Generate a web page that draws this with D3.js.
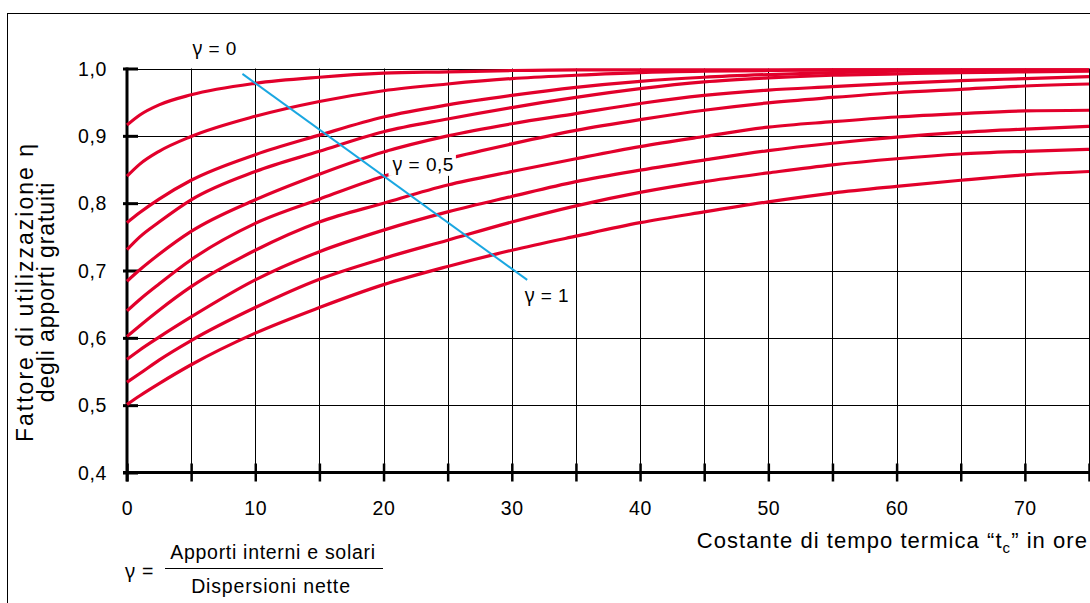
<!DOCTYPE html>
<html>
<head>
<meta charset="utf-8">
<script src="https://cdn.jsdelivr.net/npm/d3@7"></script>
<style>
  html, body { margin: 0; padding: 0; background: #fff; }
  svg { display: block; }
  text { font-family: "Liberation Sans", Arial, Helvetica, sans-serif; fill: #000; }
  .greek { font-family: "Noto Sans", "DejaVu Sans", sans-serif; }
</style>
</head>
<body>
<svg id="chart" width="1090" height="603"></svg>
<script>
// Thermal time constant (hours) at which each curve is sampled
const tHours = [0, 1, 2.5, 5, 10, 15, 20, 25, 30, 35, 40, 45, 50, 55, 60, 65, 70, 75];

// Utilisation factor of free gains, one series per gain/loss ratio gamma
const gammaValues = [0.1, 0.2, 0.3, 0.4, 0.5, 0.6, 0.7, 0.8, 0.9, 1.0];
const eta01 = [0.916, 0.931, 0.946, 0.961, 0.978, 0.987, 0.993, 0.995, 0.997, 0.998, 0.998, 0.998, 0.998, 0.998, 0.998, 0.998, 0.998, 0.998];
const eta02 = [0.840, 0.858, 0.877, 0.899, 0.929, 0.951, 0.967, 0.977, 0.985, 0.990, 0.994, 0.996, 0.997, 0.998, 0.998, 0.998, 0.998, 0.998];
const eta03 = [0.771, 0.786, 0.806, 0.834, 0.872, 0.901, 0.928, 0.946, 0.960, 0.972, 0.981, 0.987, 0.991, 0.994, 0.996, 0.997, 0.997, 0.997];
const eta04 = [0.731, 0.750, 0.772, 0.805, 0.847, 0.877, 0.906, 0.925, 0.942, 0.957, 0.970, 0.980, 0.986, 0.990, 0.992, 0.994, 0.995, 0.996];
const eta05 = [0.684, 0.701, 0.724, 0.758, 0.805, 0.843, 0.876, 0.900, 0.918, 0.933, 0.948, 0.960, 0.968, 0.973, 0.978, 0.982, 0.985, 0.988];
const eta06 = [0.640, 0.657, 0.680, 0.716, 0.770, 0.806, 0.840, 0.866, 0.888, 0.908, 0.924, 0.938, 0.949, 0.957, 0.964, 0.969, 0.974, 0.977];
const eta07 = [0.602, 0.618, 0.641, 0.676, 0.730, 0.772, 0.800, 0.827, 0.847, 0.866, 0.884, 0.899, 0.913, 0.921, 0.928, 0.933, 0.937, 0.938];
const eta08 = [0.568, 0.582, 0.601, 0.631, 0.686, 0.728, 0.760, 0.787, 0.810, 0.832, 0.849, 0.864, 0.878, 0.889, 0.898, 0.905, 0.910, 0.914];
const eta09 = [0.534, 0.547, 0.567, 0.596, 0.645, 0.687, 0.718, 0.745, 0.772, 0.796, 0.816, 0.832, 0.845, 0.857, 0.866, 0.873, 0.877, 0.880];
const eta10 = [0.501, 0.514, 0.532, 0.560, 0.607, 0.645, 0.679, 0.706, 0.730, 0.751, 0.771, 0.787, 0.802, 0.815, 0.825, 0.834, 0.842, 0.847];
const etaSeries = [eta01, eta02, eta03, eta04, eta05, eta06, eta07, eta08, eta09, eta10];

// Guide line across the family, from gamma = 0 towards gamma = 1
const guideT = [9.0, 31.2];
const guideEta = [0.992, 0.686];

// Axis ticks and labels
const xTickLabels = [0, 10, 20, 30, 40, 50, 60, 70];
const xGridValues = [0, 5, 10, 15, 20, 25, 30, 35, 40, 45, 50, 55, 60, 65, 70, 75];
const yTickValues = [0.4, 0.5, 0.6, 0.7, 0.8, 0.9, 1.0];

const svg = d3.select("#chart");
const W = 1090, H = 603;

// outer frame of the figure
svg.append("rect")
  .attr("x", 7.5).attr("y", 13.5)
  .attr("width", W + 20).attr("height", H + 20)
  .attr("fill", "none").attr("stroke", "#000").attr("stroke-width", 1);

const x = d3.scaleLinear().domain([0, 75]).range([127, 1089]);
const y = d3.scaleLinear().domain([0.4, 1.0]).range([472.5, 68.5]);

const plot = svg.append("g");

// grid
plot.append("g").selectAll("line").data(xGridValues).join("line")
  .attr("x1", d => Math.round(x(d)) + 0.5).attr("x2", d => Math.round(x(d)) + 0.5)
  .attr("y1", y(1.0)).attr("y2", y(0.4))
  .attr("stroke", "#000").attr("stroke-width", 1);
plot.append("g").selectAll("line").data(yTickValues.filter(v => v > 0.4)).join("line")
  .attr("x1", x(0)).attr("x2", W + 5)
  .attr("y1", d => Math.round(y(d)) + 0.5).attr("y2", d => Math.round(y(d)) + 0.5)
  .attr("stroke", "#000").attr("stroke-width", 1);

// axes: thick lines with ticks crossing them
const xAxis = d3.axisBottom(x).tickValues(xGridValues).tickSize(0).tickFormat("");
const xAxisG = plot.append("g").attr("transform", `translate(0,${y(0.4)})`).call(xAxis);
xAxisG.select(".domain").remove();
xAxisG.append("line").attr("x1", x(0) - 4).attr("x2", W + 5).attr("y1", 0).attr("y2", 0)
  .attr("stroke", "#000").attr("stroke-width", 3);
xAxisG.selectAll(".tick").append("line")
  .attr("y1", -9).attr("y2", 9).attr("stroke", "#000").attr("stroke-width", 2.5);

const yAxis = d3.axisLeft(y).tickValues(yTickValues).tickSize(0).tickFormat("");
const yAxisG = plot.append("g").attr("transform", `translate(${x(0)},0)`).call(yAxis);
yAxisG.select(".domain").remove();
yAxisG.append("line").attr("x1", 0).attr("x2", 0).attr("y1", y(1.0) - 1).attr("y2", y(0.4) + 9)
  .attr("stroke", "#000").attr("stroke-width", 3);
yAxisG.selectAll(".tick").append("line")
  .attr("x1", -4).attr("x2", 11).attr("stroke", "#000").attr("stroke-width", 3);

// tick labels
plot.append("g").selectAll("text").data(yTickValues).join("text")
  .attr("x", x(0) - 20).attr("y", d => y(d) + 7)
  .attr("text-anchor", "end").attr("font-size", 19.5).attr("letter-spacing", 0.6)
  .text(d => d3.format(".1f")(d).replace(".", ","));
plot.append("g").selectAll("text").data(xTickLabels).join("text")
  .attr("x", d => x(d) + 0.5).attr("y", y(0.4) + 42)
  .attr("text-anchor", "middle").attr("font-size", 19.5).attr("letter-spacing", 0.6)
  .text(d => d);

// curves
const line = d3.line()
  .x((d, i) => x(tHours[i]))
  .y(d => y(d))
  .curve(d3.curveMonotoneX);

plot.append("g").selectAll("path").data(etaSeries).join("path")
  .attr("d", d => line(d))
  .attr("fill", "none").attr("stroke", "#e2002b").attr("stroke-width", 3.2);

// guide line
plot.append("line")
  .attr("x1", x(guideT[0])).attr("y1", y(guideEta[0]))
  .attr("x2", x(guideT[1])).attr("y2", y(guideEta[1]))
  .attr("stroke", "#1aa7e1").attr("stroke-width", 2);

// gamma labels
function gammaLabel(parent, label) {
  const t = parent.append("text").attr("font-size", 19).attr("letter-spacing", 0.5);
  t.append("tspan").attr("class", "greek").text("γ");
  t.append("tspan").text(" = " + label);
  return t;
}
gammaLabel(plot, "0").attr("x", x(5.1)).attr("y", y(1.0) - 14);

const midLabel = plot.append("g");
const midText = gammaLabel(midLabel, "0,5").attr("x", x(20.7)).attr("y", y(0.848));
const bb = midText.node().getBBox();
midLabel.insert("rect", "text")
  .attr("x", bb.x - 4).attr("y", bb.y + 1).attr("width", bb.width + 6).attr("height", bb.height - 2)
  .attr("fill", "#fff");

gammaLabel(plot, "1").attr("x", x(31.0)).attr("y", y(0.653));

// axis titles
const xTitle = svg.append("text").attr("x", 1088).attr("y", 548)
  .attr("text-anchor", "end").attr("font-size", 22).attr("letter-spacing", 1.05);
xTitle.append("tspan").text("Costante di tempo termica “t");
xTitle.append("tspan").attr("font-size", 15).attr("dy", 5).text("c");
xTitle.append("tspan").attr("dy", -5).text("” in ore");

const yTitle = svg.append("text").attr("transform", "translate(33,292) rotate(-90)")
  .attr("text-anchor", "middle").attr("font-size", 23);
yTitle.append("tspan").attr("x", 0).attr("dy", 0).attr("letter-spacing", 2.0)
  .text("Fattore di utilizzazione η");
yTitle.append("tspan").attr("x", 0).attr("dy", 20.5).attr("letter-spacing", 0.9)
  .text("degli apporti gratuiti");

// definition of gamma
const gDef = svg.append("text").attr("x", 125).attr("y", 578).attr("font-size", 19.5).attr("letter-spacing", 0.8);
gDef.append("tspan").attr("class", "greek").text("γ");
gDef.append("tspan").text(" =");
svg.append("text").attr("x", 273).attr("y", 559).attr("text-anchor", "middle")
  .attr("font-size", 19.5).attr("letter-spacing", 0.7)
  .text("Apporti interni e solari");
svg.append("line").attr("x1", 165).attr("x2", 383).attr("y1", 568.5).attr("y2", 568.5)
  .attr("stroke", "#000").attr("stroke-width", 1);
svg.append("text").attr("x", 271).attr("y", 593).attr("text-anchor", "middle")
  .attr("font-size", 19.5).attr("letter-spacing", 0.85)
  .text("Dispersioni nette");
</script>
</body>
</html>
